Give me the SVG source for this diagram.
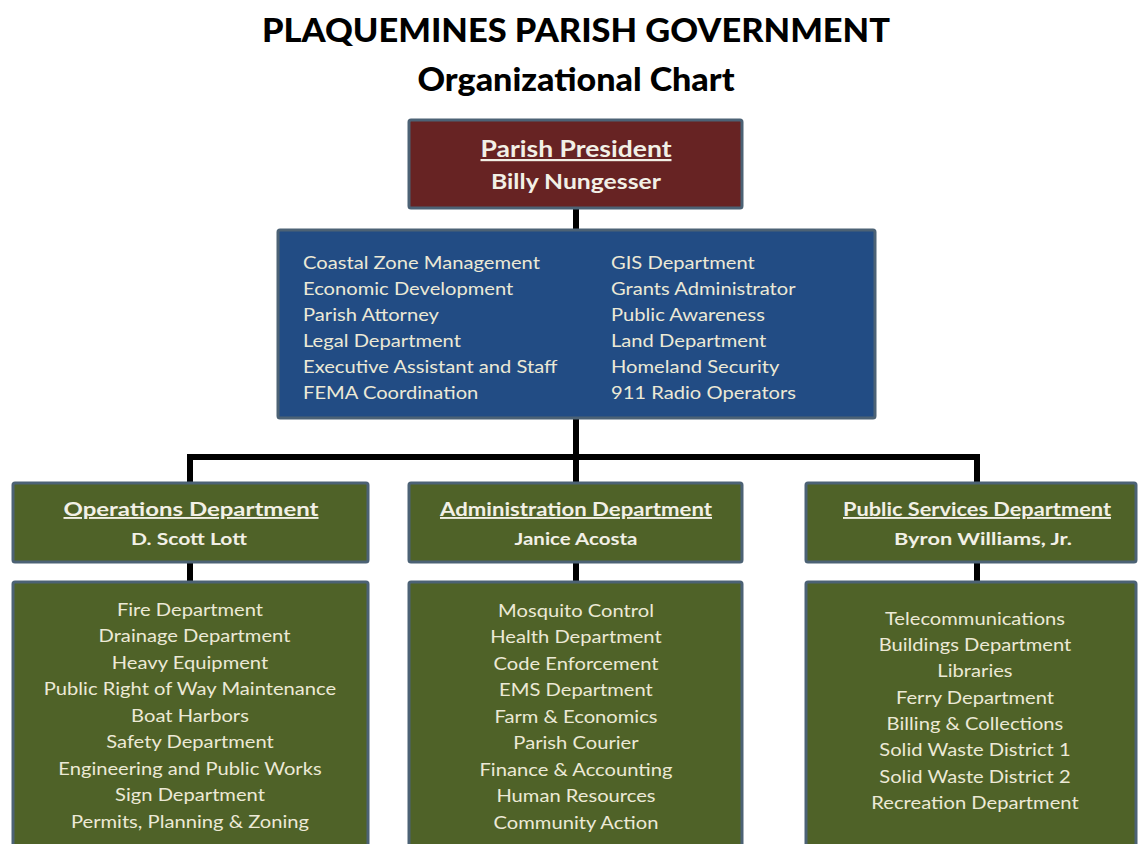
<svg xmlns="http://www.w3.org/2000/svg" width="1144" height="844" viewBox="0 0 1144 844">
<style>
.t{font-family:Lato,"Open Sans",sans-serif;}
.title{font-size:33px;font-weight:900;fill:#000;text-anchor:middle;}
.box{stroke:#4c6275;stroke-width:3;}
.pres{fill:#672323;}
.blue{fill:#224c84;}
.green{fill:#4f6228;}
.hd{font-size:19px;font-weight:700;fill:#f2f0e6;text-anchor:middle;text-decoration:underline;}
.nm{font-size:17px;font-weight:700;fill:#f2f0e6;text-anchor:middle;}
.li{font-size:18px;fill:#ece9d6;}
.c{text-anchor:middle;}
.ln{stroke:#000;stroke-width:6;fill:none;}
</style>
<rect width="1144" height="844" fill="#fff"/>
<g id="title" class="t">
<text class="title" x="576" y="42" textLength="628" lengthAdjust="spacingAndGlyphs">PLAQUEMINES PARISH GOVERNMENT</text>
<text class="title" x="576" y="91" textLength="317" lengthAdjust="spacingAndGlyphs">Organizational Chart</text>
</g>
<g id="connectors">
<line class="ln" x1="576" y1="207" x2="576" y2="231"/>
<line class="ln" x1="576" y1="418" x2="576" y2="484"/>
<polyline class="ln" points="190,484 190,457 977,457 977,484"/>
<line class="ln" x1="190" y1="561" x2="190" y2="583"/>
<line class="ln" x1="576" y1="561" x2="576" y2="583"/>
<line class="ln" x1="977" y1="561" x2="977" y2="583"/>
</g>
<g id="president" class="t">
<rect class="box pres" x="409" y="120" width="333" height="88" rx="2"/>
<text class="hd" x="576" y="157" style="font-size:22px" textLength="191" lengthAdjust="spacingAndGlyphs">Parish President</text>
<text class="nm" x="576" y="189" style="font-size:20px" textLength="170" lengthAdjust="spacingAndGlyphs">Billy Nungesser</text>
</g>
<g id="executive" class="t">
<rect class="box blue" x="278" y="230" width="597" height="188" rx="2"/>
<g class="li" transform="translate(303 0) scale(1.12 1) translate(-303 0)">
<text x="303" y="269">Coastal Zone Management</text>
<text x="303" y="295">Economic Development</text>
<text x="303" y="321">Parish Attorney</text>
<text x="303" y="347">Legal Department</text>
<text x="303" y="373">Executive Assistant and Staff</text>
<text x="303" y="399">FEMA Coordination</text>
</g>
<g class="li" transform="translate(611 0) scale(1.12 1) translate(-611 0)">
<text x="611" y="269">GIS Department</text>
<text x="611" y="295">Grants Administrator</text>
<text x="611" y="321">Public Awareness</text>
<text x="611" y="347">Land Department</text>
<text x="611" y="373">Homeland Security</text>
<text x="611" y="399">911 Radio Operators</text>
</g>
</g>
<g id="operations" class="t">
<rect class="box green" x="13" y="483" width="355" height="79" rx="2"/>
<text class="hd" x="191" y="516" textLength="255" lengthAdjust="spacingAndGlyphs">Operations Department</text>
<text class="nm" x="189" y="545" textLength="116" lengthAdjust="spacingAndGlyphs">D. Scott Lott</text>
</g>
<g id="administration" class="t">
<rect class="box green" x="409" y="483" width="333" height="79" rx="2"/>
<text class="hd" x="576" y="516" textLength="272" lengthAdjust="spacingAndGlyphs">Administration Department</text>
<text class="nm" x="576" y="545" textLength="123" lengthAdjust="spacingAndGlyphs">Janice Acosta</text>
</g>
<g id="publicservices" class="t">
<rect class="box green" x="806" y="483" width="330" height="79" rx="2"/>
<text class="hd" x="977" y="516" textLength="268" lengthAdjust="spacingAndGlyphs">Public Services Department</text>
<text class="nm" x="983" y="545" textLength="178" lengthAdjust="spacingAndGlyphs">Byron Williams, Jr.</text>
</g>
<g id="operations-units" class="t">
<rect class="box green" x="13" y="582" width="355" height="275" rx="2"/>
<g class="li c" transform="translate(190 0) scale(1.12 1) translate(-190 0)">
<text x="190" y="616">Fire Department</text>
<text x="194" y="642">Drainage Department</text>
<text x="190" y="669">Heavy Equipment</text>
<text x="190" y="695">Public Right of Way Maintenance</text>
<text x="190" y="722">Boat Harbors</text>
<text x="190" y="748">Safety Department</text>
<text x="190" y="775">Engineering and Public Works</text>
<text x="190" y="801">Sign Department</text>
<text x="190" y="828">Permits, Planning &amp; Zoning</text>
</g>
</g>
<g id="administration-units" class="t">
<rect class="box green" x="409" y="582" width="333" height="275" rx="2"/>
<g class="li c" transform="translate(576 0) scale(1.12 1) translate(-576 0)">
<text x="576" y="617">Mosquito Control</text>
<text x="576" y="643">Health Department</text>
<text x="576" y="670">Code Enforcement</text>
<text x="576" y="696">EMS Department</text>
<text x="576" y="723">Farm &amp; Economics</text>
<text x="576" y="749">Parish Courier</text>
<text x="576" y="776">Finance &amp; Accounting</text>
<text x="576" y="802">Human Resources</text>
<text x="576" y="829">Community Action</text>
</g>
</g>
<g id="publicservices-units" class="t">
<rect class="box green" x="806" y="582" width="330" height="275" rx="2"/>
<g class="li c" transform="translate(975 0) scale(1.12 1) translate(-975 0)">
<text x="975" y="625">Telecommunications</text>
<text x="975" y="651">Buildings Department</text>
<text x="975" y="677">Libraries</text>
<text x="975" y="704">Ferry Department</text>
<text x="975" y="730">Billing &amp; Collections</text>
<text x="975" y="756">Solid Waste District 1</text>
<text x="975" y="783">Solid Waste District 2</text>
<text x="975" y="809">Recreation Department</text>
</g>
</g>
</svg>
